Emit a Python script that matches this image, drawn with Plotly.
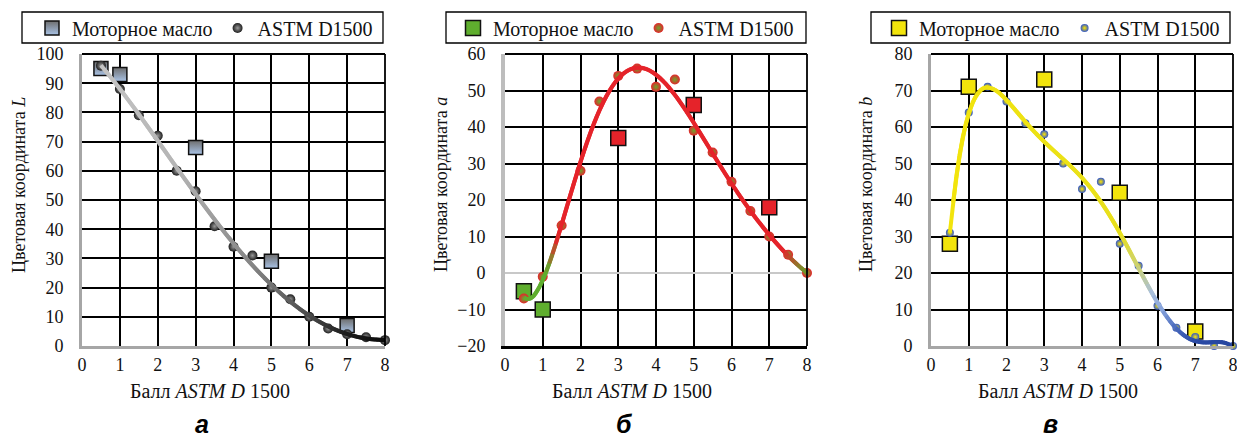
import numpy as np
import plotly.graph_objects as go

W, H = 1237, 441

# ---- data -------------------------------------------------------------
astm_x = [0.5, 1, 1.5, 2, 2.5, 3, 3.5, 4, 4.5, 5, 5.5, 6, 6.5, 7, 7.5, 8]
astm_L = [96, 88, 79, 72, 60, 53, 41, 34, 31, 20, 16, 10, 6, 4, 3, 2]
astm_a = [-7, -1, 13, 28, 47, 54, 56, 51, 53, 39, 33, 25, 17, 10, 5, 0]
astm_b = [31, 64, 71, 67, 61, 58, 50, 43, 45, 28, 22, 11, 5, 2.5, 0, 0]

oil_x = [0.5, 1, 3, 5, 7]
oil_L = [95, 93, 68, 29, 7]
oil_a = [-5, -10, 37, 46, 18]
oil_b = [28, 71, 73, 42, 4]

x_ticks = [0, 1, 2, 3, 4, 5, 6, 7, 8]

SERIF = "'Liberation Serif', 'Times New Roman', 'DejaVu Serif', serif"
SANS = "'Liberation Sans', Arial, sans-serif"
RED, GREEN, YELLOW = "#e5232a", "#5fae2e", "#f2e40c"


def fx(p):
    return p / W


def fy(p):
    return 1 - p / H


def hex2rgb(h):
    h = h.lstrip("#")
    return [int(h[i:i + 2], 16) for i in (0, 2, 4)]


def color_at(x, stops):
    xs = [s[0] for s in stops]
    rgb = np.array([hex2rgb(s[1]) for s in stops], dtype=float)
    c = [np.interp(x, xs, rgb[:, k]) for k in range(3)]
    return "rgb(%d,%d,%d)" % tuple(int(round(v)) for v in c)


fig = go.Figure()

panels = [
    dict(ax="", dom=(82, 385), yrange=(0, 100), ys=astm_L, oil=oil_L,
         ytitle="Цветовая координата <i>L</i>", ytx=19, letter="а", deg=4,
         oil_color="#6e6e6e", oil_grad="#a9c3e6",
         astm_color="#1e1e1e", astm_grad="#9a9a9a", astm_size=10, oil_size=14,
         stops=[(0.5, "#c4c4c4"), (2.5, "#b4b4b4"), (4.5, "#858585"),
                (6.0, "#4a4a4a"), (7.0, "#1c1c1c"), (8, "#0c0c0c")],
         axis_left="#a6a6a6", axis_bottom="#a6a6a6",
         box=(22, 383), legx=32),
    dict(ax="2", dom=(505, 807), yrange=(-20, 60), ys=astm_a, oil=oil_a,
         ytitle="Цветовая координата <i>a</i>", ytx=441, letter="б", deg=6,
         oil_color=[GREEN, GREEN, RED, RED, RED], oil_grad=None,
         astm_color=RED, astm_grad="#6aa82e", astm_size=10, oil_size=15,
         stops=[(0.5, GREEN), (1.1, GREEN), (1.4, RED), (7.35, RED),
                (7.85, "#7d8a2a"), (8, "#6a9a2c")],
         axis_left="#bdbdbd", axis_bottom="#000000",
         box=(446, 806), legx=453),
    dict(ax="3", dom=(931, 1233), yrange=(0, 80), ys=astm_b, oil=oil_b,
         ytitle="Цветовая координата <i>b</i>", ytx=866, letter="в", deg=6,
         oil_color=YELLOW, oil_grad=None,
         astm_color="#2f55c8", astm_grad="#ffe800", astm_size=8, oil_size=15,
         stops=[(0.5, YELLOW), (5.0, "#e8e01c"), (5.5, "#c9d07a"),
                (5.85, "#a9bfdc"), (6.1, "#8aa6dc"), (6.5, "#4566bb"),
                (7.0, "#2a4aa4"), (8, "#2646a0")],
         axis_left="#a6a6a6", axis_bottom="#a6a6a6",
         box=(871, 1230), legx=879),
]

shapes = []
annotations = []
layout_axes = {}

for i, p in enumerate(panels):
    xa = "x" + p["ax"]
    ya = "y" + p["ax"]
    leg = "legend" + p["ax"]

    # oil samples
    mk = dict(symbol="square", size=p["oil_size"], color=p["oil_color"],
              line=dict(color="#111111", width=1.5))
    if p["oil_grad"]:
        mk["gradient"] = dict(type="vertical", color=p["oil_grad"])
    fig.add_trace(go.Scatter(
        x=oil_x, y=p["oil"], mode="markers", name="Моторное масло",
        marker=mk, xaxis=xa, yaxis=ya, legend=leg, cliponaxis=False))

    # ASTM reference points
    fig.add_trace(go.Scatter(
        x=astm_x, y=p["ys"], mode="markers", name="ASTM D1500",
        marker=dict(symbol="circle", size=p["astm_size"], color=p["astm_color"],
                    gradient=dict(type="radial", color=p["astm_grad"]),
                    line=dict(width=0)),
        xaxis=xa, yaxis=ya, legend=leg, cliponaxis=False))

    # polynomial trend line with a colour gradient along x
    coef = np.polyfit(astm_x, p["ys"], p["deg"])
    t = np.linspace(astm_x[0], astm_x[-1], 90)
    v = np.polyval(coef, t)
    for k in range(len(t) - 1):
        fig.add_trace(go.Scatter(
            x=t[k:k + 3], y=v[k:k + 3], mode="lines", showlegend=False,
            hoverinfo="skip",
            line=dict(color=color_at((t[k] + t[k + 1]) / 2, p["stops"]), width=4),
            xaxis=xa, yaxis=ya, cliponaxis=False))

    x0, x1 = p["dom"]
    layout_axes["xaxis" + p["ax"]] = dict(
        domain=[fx(x0), fx(x1)], anchor=ya, range=[0, 8], tickvals=x_ticks,
        showgrid=True, gridcolor="#000000", gridwidth=1.8, zeroline=False,
        showline=True, linecolor=p["axis_bottom"], linewidth=3,
        ticks="", ticklabelstandoff=0, ticklabeloverflow="allow",
        tickfont=dict(family=SERIF, size=18, color="#111111"),
        automargin=False, fixedrange=True)
    ymin, ymax = p["yrange"]
    layout_axes["yaxis" + p["ax"]] = dict(
        domain=[fy(346), fy(54)], anchor=xa, range=[ymin, ymax], dtick=10,
        showgrid=True, gridcolor="#000000", gridwidth=1.8,
        zeroline=(ymin < 0), zerolinecolor="#c8c8c8", zerolinewidth=2,
        showline=True, linecolor=p["axis_left"], linewidth=4 if i == 1 else 3,
        ticks="outside", ticklen=12, tickcolor="rgba(0,0,0,0)",
        tickfont=dict(family=SERIF, size=18, color="#111111"),
        automargin=False, fixedrange=True)

    # top and right frame lines
    shapes.append(dict(type="line", xref="paper", yref="paper",
                       x0=fx(x0), x1=fx(x1), y0=fy(54), y1=fy(54),
                       line=dict(color="#000000", width=1.8)))
    shapes.append(dict(type="line", xref="paper", yref="paper",
                       x0=fx(x1), x1=fx(x1), y0=fy(346), y1=fy(54),
                       line=dict(color="#000000", width=1.8)))

    # legend frame
    bx0, bx1 = p["box"]
    shapes.append(dict(type="rect", xref="paper", yref="paper",
                       x0=fx(bx0), x1=fx(bx1), y0=fy(43), y1=fy(12),
                       line=dict(color="#000000", width=1.3),
                       fillcolor="rgba(0,0,0,0)"))
    layout_axes[leg] = dict(
        x=fx(p["legx"]), y=fy(28), xanchor="left", yanchor="middle",
        orientation="h", bgcolor="rgba(0,0,0,0)", borderwidth=0,
        font=dict(family=SERIF, size=20, color="#111111"),
        itemwidth=30, traceorder="normal")

    # axis titles
    annotations.append(dict(
        text=p["ytitle"], xref="paper", yref="paper", x=fx(p["ytx"]), y=fy(185),
        xanchor="center", yanchor="middle", textangle=-90, showarrow=False,
        font=dict(family=SERIF, size=18, color="#111111")))
    xc = (x0 + x1) / 2 - 24
    annotations.append(dict(
        text="Балл <i>ASTM D</i> 1500", xref="paper", yref="paper",
        x=fx(xc), y=fy(391), xanchor="center", yanchor="middle",
        showarrow=False, font=dict(family=SERIF, size=20, color="#111111")))
    # panel letter
    annotations.append(dict(
        text="<b><i>%s</i></b>" % p["letter"], xref="paper", yref="paper",
        x=fx(xc - 8), y=fy(424), xanchor="center", yanchor="middle",
        showarrow=False, font=dict(family=SANS, size=25, color="#000000")))

fig.update_layout(
    width=W, height=H, margin=dict(l=0, r=0, t=0, b=0),
    paper_bgcolor="white", plot_bgcolor="white",
    shapes=shapes, annotations=annotations, **layout_axes)

fig.write_html("out.html")
